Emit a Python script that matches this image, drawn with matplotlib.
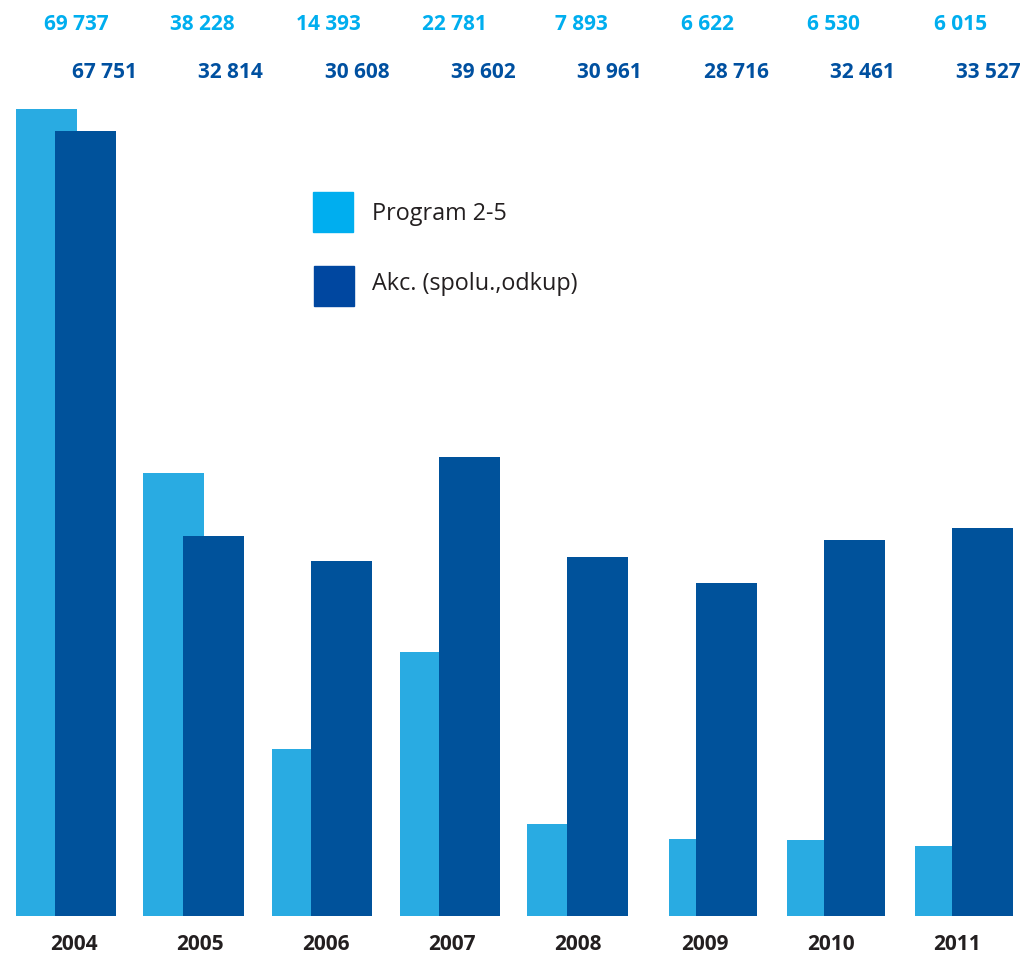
import matplotlib
matplotlib.use("Agg")
import matplotlib.pyplot as plt
from matplotlib.patches import Rectangle
import numpy as np

years = ["2004", "2005", "2006", "2007", "2008", "2009", "2010", "2011"]
program = [69737, 38228, 14393, 22781, 7893, 6622, 6530, 6015]
akc = [67751, 32814, 30608, 39602, 30961, 28716, 32461, 33527]
program_labels = ["69 737", "38 228", "14 393", "22 781", "7 893", "6 622", "6 530", "6 015"]
akc_labels = ["67 751", "32 814", "30 608", "39 602", "30 961", "28 716", "32 461", "33 527"]
legend_names = ["Program 2-5", "Akc. (spolu.,odkup)"]

# layout (pixels)
W, H = 1024, 955
base_px = 915.5
dark_left0, group_step, bar_w = 55.0, 128.1, 61.0
light_shift = [39, 40, 39, 39, 40, 27, 37, 37]

fig = plt.figure(figsize=(W / 100, H / 100), dpi=100)
ax = fig.add_axes([0, (H - base_px) / H, 1, base_px / H])
ax.set_axis_off()

px_per_unit = 807.0 / 69737
ax.set_xlim(0, W)
ax.set_ylim(0, base_px / px_per_unit)

light_bar = "#29ABE2"
dark_bar = "#00529B"
light_txt = "#00AEEF"
dark_txt = "#0050A0"
gray = "#231F20"

idx = np.arange(len(years))
dark_x = dark_left0 + group_step * idx
light_x = dark_x - np.array(light_shift)
ax.bar(light_x, program, width=bar_w, align="edge", color=light_bar, zorder=1)
ax.bar(dark_x, akc, width=bar_w, align="edge", color=dark_bar, zorder=2)

fam = ["Open Sans", "DejaVu Sans"]
LSP = 126.3
for i in range(len(years)):
    lx = (76 + LSP * i) / W
    dx = (104.5 + LSP * i) / W
    yx = (74 + 126.1 * i) / W
    fig.text(lx, 1 - 24 / H, program_labels[i], ha="center", va="center",
             color=light_txt, fontsize=15, fontweight="bold", family=fam)
    fig.text(dx, 1 - 72 / H, akc_labels[i], ha="center", va="center",
             color=dark_txt, fontsize=15, fontweight="bold", family=fam)
    fig.text(yx, 1 - 944 / H, years[i], ha="center", va="center",
             color=gray, fontsize=15, fontweight="bold", family=fam)

# legend
fig.patches.append(Rectangle((313 / W, 1 - 232 / H), 40 / W, 40 / H,
                             transform=fig.transFigure, color="#00AEEF", figure=fig))
fig.patches.append(Rectangle((314 / W, 1 - 306 / H), 40 / W, 40 / H,
                             transform=fig.transFigure, color="#0047A0", figure=fig))
fig.text(372 / W, 1 - 213.5 / H, legend_names[0], ha="left", va="center",
         color=gray, fontsize=16.8, family=fam)
fig.text(372 / W, 1 - 284.5 / H, legend_names[1], ha="left", va="center",
         color=gray, fontsize=16.8, family=fam)

fig.savefig("out.png", dpi=100, facecolor="white")
